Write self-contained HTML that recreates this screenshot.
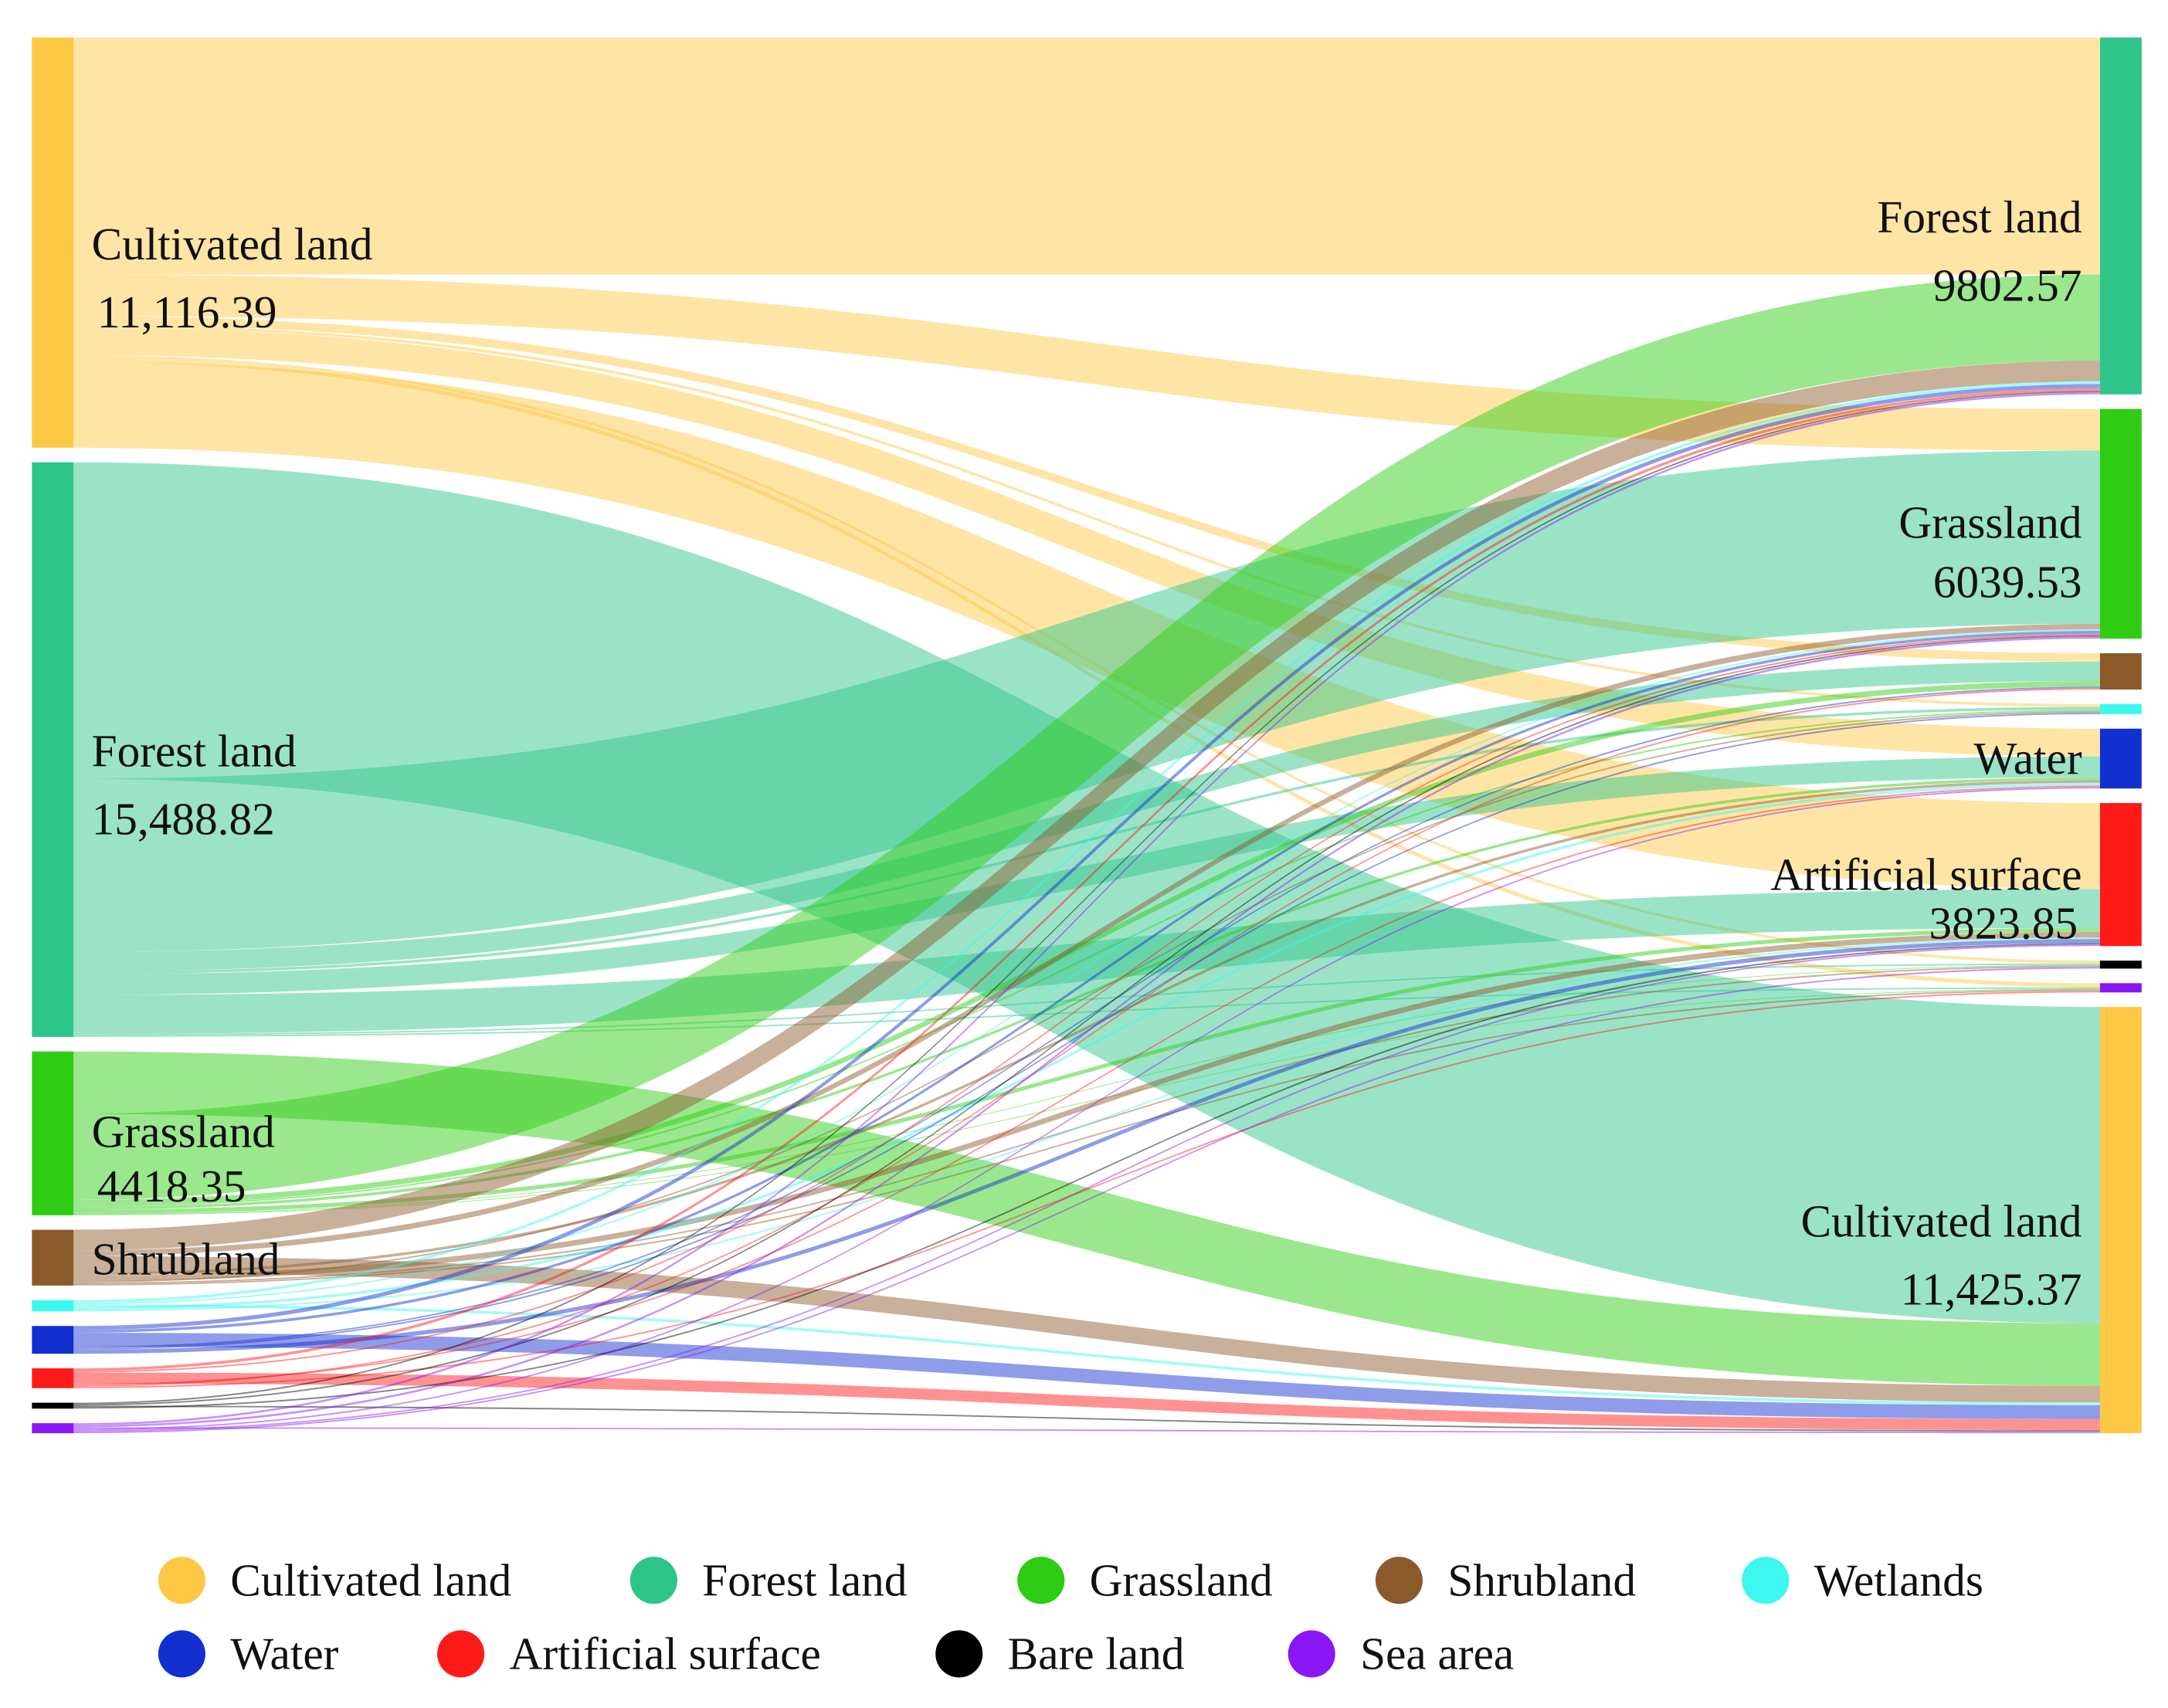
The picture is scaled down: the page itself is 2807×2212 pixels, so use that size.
<!DOCTYPE html>
<html><head><meta charset="utf-8"><style>
html,body{margin:0;padding:0;background:#fff;}
svg{display:block;}
text{font-family:"Liberation Serif",serif;fill:#111;}
</style></head><body>
<svg id="chart" width="2807" height="2212" viewBox="0 0 1562 1231" preserveAspectRatio="none" xmlns="http://www.w3.org/2000/svg">
<g id="links"></g>
<g id="nodes"></g>
<g id="labels"></g>
<g id="legend"></g>
</svg>
<script>
const categories = ["Cultivated land","Forest land","Grassland","Shrubland","Wetlands","Water","Artificial surface","Bare land","Sea area"];
const colors = ["#fdc944","#2ec58a","#2ecc12","#8b5a2b","#3ef7ee","#1230d0","#ff1a1a","#000000","#8a17f5"];
const rightOrder = [1,2,3,4,5,6,7,8,0];
// link data: source index, target index, value (area)
const linkSource = [0,0,0,0,0,0,0,0, 1,1,1,1,1,1,1,1, 2,2,2,2,2,2,2,2, 3,3,3,3,3,3,3,3, 4,4,4,4,4, 5,5,5,5,5,5, 6,6,6,6,6,6, 7,7,7,7, 8,8,8,8,8,8];
const linkTarget = [1,2,3,4,5,7,8,6, 0,2,3,4,5,6,7,8, 0,1,3,4,5,6,7,8, 1,2,0,5,6,4,7,8, 1,2,0,5,6, 1,2,0,3,4,6, 1,2,0,5,3,8, 1,2,0,6, 1,2,0,5,6,7];
const linkValue = [6400,1120,225,75,750,75,110,2320, 8540,4680,525,75,560,1050,40,40, 1685,2320,150,40,75,110,20,20, 560,150,450,75,150,40,40,40, 75,40,75,75,40, 110,75,375,40,40,110, 75,40,300,40,40,40, 40,40,40,40, 55,55,40,40,40,40];
const leftLabelText = ["11,116.39","15,488.82","4418.35"];
const rightLabelText = {1:"9802.57",2:"6039.53",6:"3823.85",0:"11,425.37"};

const NS="http://www.w3.org/2000/svg";
const kScale=0.0267, topY=27, gapY=10.5, xL=23, xR=1513, nw=30;
const nCat=categories.length;
const outSum=new Array(nCat).fill(0), inSum=new Array(nCat).fill(0);
linkValue.forEach((v,i)=>{outSum[linkSource[i]]+=v; inSum[linkTarget[i]]+=v;});
function yScale(v){return v*kScale;}
const leftY=[], rightY=[];
let yy=topY;
for(let i=0;i<nCat;i++){leftY[i]=yy; yy+=yScale(outSum[i])+gapY;}
yy=topY;
rightOrder.forEach(i=>{rightY[i]=yy; yy+=yScale(inSum[i])+gapY;});
const srcOff=leftY.slice(), tgtOff=rightY.slice();
const tgtPos=new Array(linkValue.length);
const order=linkValue.map((v,i)=>i).sort((a,b)=>linkSource[a]-linkSource[b]||a-b);
order.forEach(i=>{tgtPos[i]=tgtOff[linkTarget[i]]; tgtOff[linkTarget[i]]+=yScale(linkValue[i]);});
const linksG=document.getElementById('links');
linkValue.forEach((v,i)=>{
  const h=yScale(v), s=linkSource[i];
  const y0=srcOff[s]; srcOff[s]+=h;
  const y1=tgtPos[i];
  const x0=xL+nw, x1=xR, xm=(x0+x1)/2;
  const p=document.createElementNS(NS,'path');
  p.setAttribute('d',`M${x0},${y0}C${xm},${y0} ${xm},${y1} ${x1},${y1}L${x1},${y1+h}C${xm},${y1+h} ${xm},${y0+h} ${x0},${y0+h}Z`);
  p.setAttribute('fill',colors[s]);
  p.setAttribute('fill-opacity','0.48');
  
  
  linksG.appendChild(p);
});
const nodesG=document.getElementById('nodes');
for(let i=0;i<nCat;i++){
  const r=document.createElementNS(NS,'rect');
  r.setAttribute('x',xL);r.setAttribute('y',leftY[i]);r.setAttribute('width',nw);r.setAttribute('height',yScale(outSum[i]));r.setAttribute('fill',colors[i]);
  
  
  nodesG.appendChild(r);
  const r2=document.createElementNS(NS,'rect');
  r2.setAttribute('x',xR);r2.setAttribute('y',rightY[i]);r2.setAttribute('width',nw);r2.setAttribute('height',yScale(inSum[i]));r2.setAttribute('fill',colors[i]);
  
  
  nodesG.appendChild(r2);
}
const labG=document.getElementById('labels');
function addText(g,x,y,t,anchor,size,name){
  const e=document.createElementNS(NS,'text');
  e.setAttribute('x',x);e.setAttribute('y',y);e.setAttribute('font-size',size);
  if(anchor)e.setAttribute('text-anchor',anchor);
  e.textContent=t;
  
  
  g.appendChild(e);
}
for(let i=0;i<3;i++){
  const h=yScale(outSum[i]), mid=leftY[i]+h/2;
  addText(labG,66,mid+(i==2?10:12),categories[i],null,33,'left-label-'+i);
  addText(labG,i==1?66:70,mid+(i==2?49:61),leftLabelText[i],null,33,'left-value-'+i);
}
addText(labG,66,leftY[3]+yScale(outSum[3])/2+12,"Shrubland",null,33,'left-label-shrubland');
[1,2,0].forEach(i=>{
  const mid=rightY[i]+yScale(inSum[i])/2;
  addText(labG,1500,mid+(i==2?10:12),categories[i],'end',33,'right-label-'+i);
  addText(labG,1500,mid+(i==2?53:61),rightLabelText[i],'end',33,'right-value-'+i);
});
addText(labG,1500,rightY[5]+yScale(inSum[5])/2+11,"Water",'end',33,'right-label-water');
addText(labG,1500,rightY[6]+yScale(inSum[6])/2+11,"Artificial surface",'end',33,'right-label-artificial');
addText(labG,1497,rightY[6]+yScale(inSum[6])/2+46,rightLabelText[6],'end',33,'right-value-artificial');
const legG=document.getElementById('legend');
const legX=[131,471,750,1008,1272,131,332,691,945];
categories.forEach((c,i)=>{
  const cy=i<5?1139:1192;
  const ci=document.createElementNS(NS,'circle');
  ci.setAttribute('cx',legX[i]);ci.setAttribute('cy',cy);ci.setAttribute('r',17);ci.setAttribute('fill',colors[i]);
  
  
  legG.appendChild(ci);
  addText(legG,legX[i]+35,cy+11,c,null,33,'legend-label-'+c.toLowerCase().replace(/ /g,'-'));
});
</script>
</body></html>
